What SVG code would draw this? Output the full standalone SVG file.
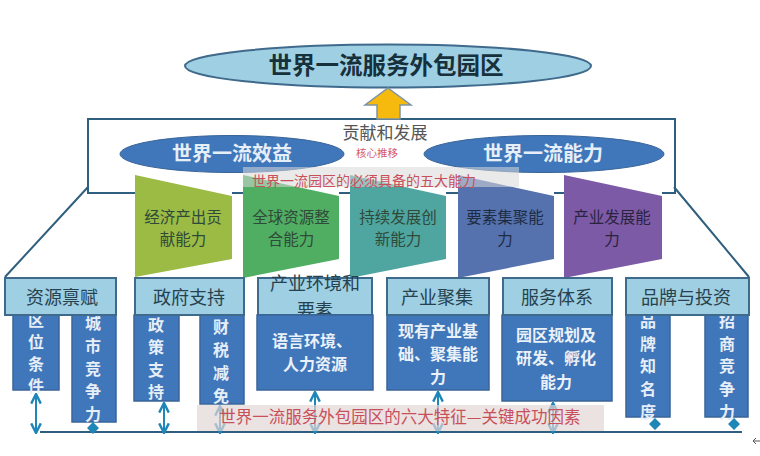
<svg xmlns="http://www.w3.org/2000/svg" width="760" height="456" viewBox="0 0 760 456">
<style>
text{font-family:"Noto Sans CJK SC","Liberation Sans",sans-serif;text-anchor:middle}
.hd{fill:#9fcfe2;stroke:#3f6a8c;stroke-width:2}
.bl{fill:#4076ba;stroke:#3a6598;stroke-width:1.5}
.ht{font-size:18px;fill:#27424f}
.bt{font-size:16px;font-weight:700;fill:#eaf1f8}
.vt{font-size:16px;font-weight:700;fill:#e6eef7}
.tt{font-size:15.500px;fill:#2f4a3a}
.lnk{stroke:#2f5f7e;stroke-width:2;fill:none}
.arr{stroke:#1f86b8;stroke-width:2;fill:none;marker-start:url(#ah);marker-end:url(#ah)}
.dm{fill:#1f86b8}
</style>
<defs>
<marker id="ah" viewBox="0 0 10 10" refX="9" refY="5" markerWidth="6" markerHeight="6" orient="auto-start-reverse"><path d="M1 1L9 5L1 9" fill="none" stroke="#1f86b8" stroke-width="2"/></marker>
</defs>
<rect width="760" height="456" fill="#fff"/>
<g id="top">
<ellipse cx="388" cy="66" rx="203" ry="21.500" fill="#9fcfe2" stroke="#3f6a8c" stroke-width="2"/>
<text x="386" y="74" font-size="23.500" font-weight="700" fill="#16303c">世界一流服务外包园区</text>
</g>
<g id="contribution">
<text x="385" y="139" font-size="17" fill="#555">贡献和发展</text>
<text x="377" y="157" font-size="10.500" fill="#d55a6a">核心推移</text>
</g>
<g id="benefit">
<ellipse cx="232" cy="154" rx="112" ry="18.500" fill="#4076ba" stroke="#3a6598"/>
<text x="232" y="161" font-size="20" font-weight="700" fill="#e6eef7">世界一流效益</text>
</g>
<g id="ability">
<ellipse cx="544" cy="154" rx="120" ry="18.500" fill="#4076ba" stroke="#3a6598"/>
<text x="543" y="161" font-size="20" font-weight="700" fill="#e6eef7">世界一流能力</text>
</g>
<g id="cap1"><path d="M135 175L232 196V259L135 277Z" fill="#9bbb45"/><text class="tt" x="183" y="223">经济产出贡</text><text class="tt" x="183" y="245">献能力</text></g>
<g id="cap2"><path d="M243 175L339 196V259L243 278Z" fill="#4fae62"/><text class="tt" x="291" y="223">全球资源整</text><text class="tt" x="291" y="245">合能力</text></g>
<g id="cap3"><path d="M350 175L446 196V259L350 278Z" fill="#4fa59f"/><text class="tt" x="398" y="223">持续发展创</text><text class="tt" x="398" y="245">新能力</text></g>
<g id="cap4"><path d="M458 175L554 196V259L458 278Z" fill="#5672ae"/><text class="tt" x="505" y="223" style="fill:#1d2c45">要素集聚能</text><text class="tt" x="505" y="245" style="fill:#1d2c45">力</text></g>
<g id="cap5"><path d="M564 175L662 196V259L564 278Z" fill="#7c5aa6"/><text class="tt" x="612" y="223" style="fill:#2a2340">产业发展能</text><text class="tt" x="612" y="245" style="fill:#2a2340">力</text></g>
<g id="five-band">
<rect x="243" y="167" width="276" height="20" fill="#d9d9d9" fill-opacity=".55"/>
<text x="364" y="186" font-size="14" fill="#c8505a">世界一流园区的必须具备的五大能力</text>
</g>
<g id="f1">
<rect class="bl" x="13" y="315" width="46" height="75"/>
<rect class="bl" x="72" y="315" width="44" height="107"/>
<text class="vt" x="36" y="326"><tspan x="36">区</tspan><tspan x="36" dy="22">位</tspan><tspan x="36" dy="22">条</tspan><tspan x="36" dy="22">件</tspan></text>
<text class="vt" x="93" y="329"><tspan x="93">城</tspan><tspan x="93" dy="23">市</tspan><tspan x="93" dy="23">竞</tspan><tspan x="93" dy="22">争</tspan><tspan x="93" dy="23">力</tspan></text>
<rect class="hd" x="5" y="278" width="111" height="37"/><text class="ht" x="62" y="304">资源禀赋</text>
</g>
<g id="f2">
<rect class="bl" x="134" y="315" width="45" height="86"/>
<rect class="bl" x="200" y="315" width="44" height="89"/>
<text class="vt" x="156" y="331"><tspan x="156">政</tspan><tspan x="156" dy="22">策</tspan><tspan x="156" dy="23">支</tspan><tspan x="156" dy="22">持</tspan></text>
<text class="vt" x="221" y="333"><tspan x="221">财</tspan><tspan x="221" dy="23">税</tspan><tspan x="221" dy="23">减</tspan><tspan x="221" dy="23">免</tspan></text>
<rect class="hd" x="135" y="278" width="109" height="37"/><text class="ht" x="189" y="304">政府支持</text>
</g>
<g id="f3">
<rect class="hd" x="258" y="278" width="114" height="37"/>
<text class="ht" x="315" y="290">产业环境和</text><text class="ht" x="315" y="317">要素</text>
<rect class="bl" x="257" y="315" width="116" height="75"/>
<text class="bt" x="312" y="347">语言环境、</text><text class="bt" x="315" y="370">人力资源</text>
</g>
<g id="f4">
<rect class="bl" x="387" y="315" width="102" height="75"/>
<rect class="hd" x="387" y="278" width="102" height="37"/><text class="ht" x="437" y="304">产业聚集</text>
<text class="bt" x="438" y="337">现有产业基</text><text class="bt" x="438" y="360">础、聚集能</text><text class="bt" x="438" y="383">力</text>
</g>
<g id="f5">
<rect class="bl" x="502" y="315" width="110" height="86"/>
<rect class="hd" x="503" y="278" width="109" height="37"/><text class="ht" x="557" y="304">服务体系</text>
<text class="bt" x="556" y="341">园区规划及</text><text class="bt" x="556" y="364">研发、孵化</text><text class="bt" x="556" y="388">能力</text>
</g>
<g id="f6">
<rect class="bl" x="626" y="315" width="44" height="102"/>
<rect class="bl" x="705" y="315" width="43" height="102"/>
<text class="vt" x="648" y="327"><tspan x="648">品</tspan><tspan x="648" dy="23">牌</tspan><tspan x="648" dy="22">知</tspan><tspan x="648" dy="23">名</tspan><tspan x="648" dy="23">度</tspan></text>
<text class="vt" x="727" y="327"><tspan x="727">招</tspan><tspan x="727" dy="23">商</tspan><tspan x="727" dy="22">竞</tspan><tspan x="727" dy="23">争</tspan><tspan x="727" dy="23">力</tspan></text>
<rect class="hd" x="626" y="278" width="123" height="37"/><text class="ht" x="686" y="304">品牌与投资</text>
</g>
<g id="connectors">
<path class="lnk" d="M135 193H88V119H675V193H662"/>
<path class="lnk" d="M88 187L5 277M674 187L749 277"/>
<path class="lnk" d="M232 193H243M339 193H350M446 193H458M554 193H564"/>
<path class="lnk" d="M40 432H742"/>
<path class="arr" d="M36 394V433"/>
<path class="arr" d="M164 403V433"/>
<path class="arr" d="M220 406V433"/>
<path class="arr" d="M315 392V433"/>
<path class="arr" d="M438 392V433"/>
<path class="arr" d="M553 403V433"/>
<path class="dm" d="M93 422l6 6-6 6-6-6zM655 418l6 6-6 6-6-6zM734 418l6 6-6 6-6-6z"/>
<path d="M760 441H753M756 438l-3 3 3 3" fill="none" stroke="#555" stroke-width="1"/>
</g>
<g id="up-arrow"><path d="M388 88L411 105H400V119H377V105H365Z" fill="#f6b90e" stroke="#7d94a8" stroke-width="1.500"/></g>
<g id="six-band">
<rect x="197" y="405" width="407" height="26" fill="#e3d5d5" fill-opacity=".7"/>
<text x="400" y="423" font-size="16.500" fill="#c8505a">世界一流服务外包园区的六大特征—关键成功因素</text>
</g>
</svg>
